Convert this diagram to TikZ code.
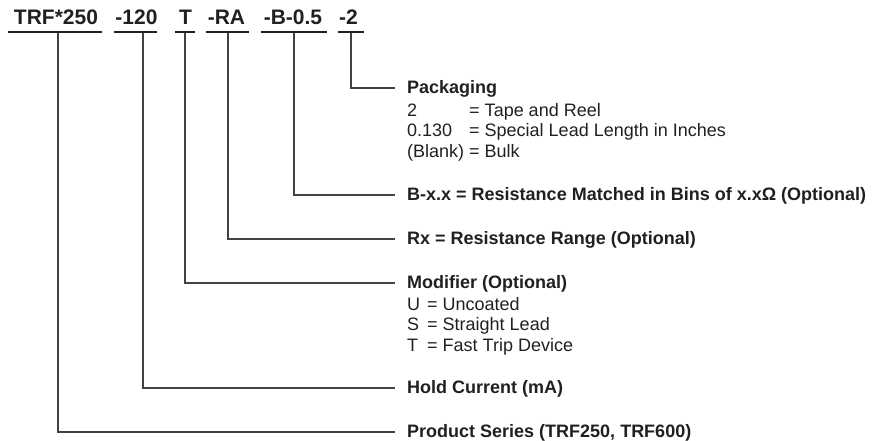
\documentclass[tikz,border=0pt]{standalone}
\usepackage{fontspec}
\setmainfont{Liberation Sans}
\definecolor{ink}{HTML}{231F20}
\begin{document}
\begin{tikzpicture}[x=1pt,y=-1pt,
  code/.style={font=\fontsize{21}{21}\selectfont\bfseries, anchor=base, inner sep=0pt, text=ink},
  ttl/.style={font=\fontsize{18}{18}\selectfont\bfseries, anchor=base west, inner sep=0pt, text=ink},
  dtl/.style={font=\fontsize{18}{20.5}\selectfont, anchor=base west, inner sep=0pt, text=ink},
  uline/.style={line width=2.4pt, draw=ink},
  conn/.style={line width=1.2pt, draw=ink!85}]
\useasboundingbox (0,0) rectangle (880,440);
% code parts
\node[code] (p1) at (56,24) {TRF*250};
\node[code] (p2) at (136.5,24) {-120};
\node[code] (p3) at (185.5,24) {T};
\node[code] (p4) at (226.5,24) {-RA};
\node[code] (p5) at (293,24) {-B-0.5};
\node[code] (p6) at (348.5,24) {-2};
% underlines
\draw[uline] (8,32) -- (102,32);
\draw[uline] (114,32) -- (157,32);
\draw[uline] (175,32) -- (195,32);
\draw[uline] (206,32) -- (249,32);
\draw[uline] (261,32) -- (327,32);
\draw[uline] (338,32) -- (364,32);
% connector start points
\coordinate (s1) at (58,33);
\coordinate (s2) at (143,33);
\coordinate (s3) at (185,33);
\coordinate (s4) at (228,33);
\coordinate (s5) at (294,33);
\coordinate (s6) at (351,33);
% connector end points
\coordinate (e6) at (395,88);
\coordinate (e5) at (395,195);
\coordinate (e4) at (395,239);
\coordinate (e3) at (395,283);
\coordinate (e2) at (395,388);
\coordinate (e1) at (395,432);
\draw[conn] (s6) |- (e6);
\draw[conn] (s5) |- (e5);
\draw[conn] (s4) |- (e4);
\draw[conn] (s3) |- (e3);
\draw[conn] (s2) |- (e2);
\draw[conn] (s1) |- (e1);
% labels
\node[ttl] (t6) at (407,93) {Packaging};
\node[dtl] (d6) at (407,116) {\begin{tabular}[t]{@{}l@{ }l@{}}2 & = Tape and Reel\\0.130 & = Special Lead Length in Inches\\(Blank) & = Bulk\end{tabular}};
\node[ttl] (t5) at (407,200) {B-x.x = Resistance Matched in Bins of x.x\symbol{"03A9} (Optional)};
\node[ttl] (t4) at (407,244) {Rx = Resistance Range (Optional)};
\node[ttl] (t3) at (407,288) {Modifier (Optional)};
\node[dtl] (d3) at (407,310) {\begin{tabular}[t]{@{}l@{\hspace{7pt}}l@{}}U & = Uncoated\\S & = Straight Lead\\T & = Fast Trip Device\end{tabular}};
\node[ttl] (t2) at (407,393) {Hold Current (mA)};
\node[ttl] (t1) at (407,437) {Product Series (TRF250, TRF600)};
\end{tikzpicture}
\end{document}
